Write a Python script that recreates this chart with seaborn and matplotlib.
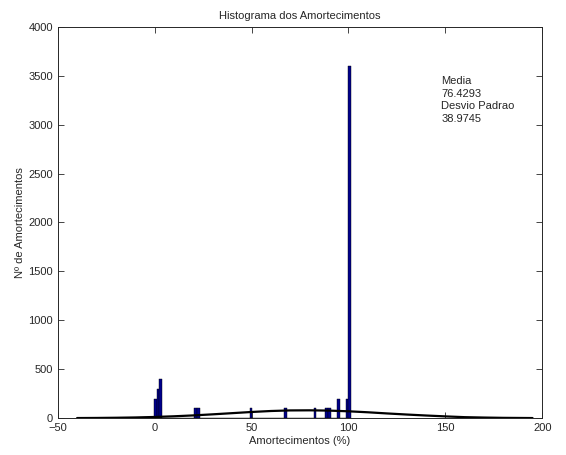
import numpy as np
import pandas as pd
import matplotlib
matplotlib.use('Agg')
import matplotlib.pyplot as plt
import seaborn as sns

# bins (centres) and counts
bin_centros = [0.25, 1.75, 3.25, 21.25, 22.75, 49.75, 67.75, 82.75,
               89.25, 90.75, 94.75, 99.25, 100.75]
contagens = [200, 300, 400, 100, 100, 100, 100, 100,
             100, 100, 200, 200, 3600]

# fitted normal curve
curva_x = [-40, -30, -20, -10, 0, 10, 20, 30, 40, 50, 60, 70, 80,
           90, 100, 110, 120, 130, 140, 150, 160, 170, 180, 195]
curva_y = [1, 2, 4, 7, 12, 19, 28, 39, 51, 63, 73, 79, 80,
           77, 70, 60, 48, 37, 27, 18, 10, 6, 3, 1]

media = 76.4293
desvio = 38.9745

sns.set_style('ticks')
plt.rcParams['font.family'] = ['Liberation Sans', 'DejaVu Sans']
plt.rcParams['xtick.direction'] = 'in'
plt.rcParams['ytick.direction'] = 'in'

df = pd.DataFrame({'x': bin_centros, 'n': contagens})
bordas = [float(b) for b in np.arange(-0.5, 102, 1.5)]

fig = plt.figure(figsize=(5.66, 4.55), dpi=100)
ax = fig.add_axes([0.102, 0.081, 0.856, 0.86])

sns.histplot(data=df, x='x', weights='n', bins=bordas,
             color='#00008c', edgecolor='black', linewidth=0.3, alpha=1, ax=ax)
sns.lineplot(x=curva_x, y=curva_y, color='black', linewidth=1.6, ax=ax)

ax.set_xlim(-50, 200)
ax.set_ylim(0, 4000)
ax.set_xticks(np.arange(-50, 201, 50))
ax.set_yticks(np.arange(0, 4001, 500))
ax.tick_params(labelsize=8, top=True, right=True, length=4, width=0.6)
for s in ax.spines.values():
    s.set_linewidth(0.7)

ax.set_title('Histograma dos Amortecimentos', fontsize=8)
ax.set_xlabel('Amortecimentos (%)', fontsize=8, labelpad=2)
ax.set_ylabel('Nº de Amortecimentos', fontsize=8, labelpad=2)

ax.text(148, 3500, f'Media\n{media}\nDesvio Padrao\n{desvio}',
        fontsize=8, va='top', ha='left', linespacing=1.35)

fig.savefig('out.png', dpi=100)
